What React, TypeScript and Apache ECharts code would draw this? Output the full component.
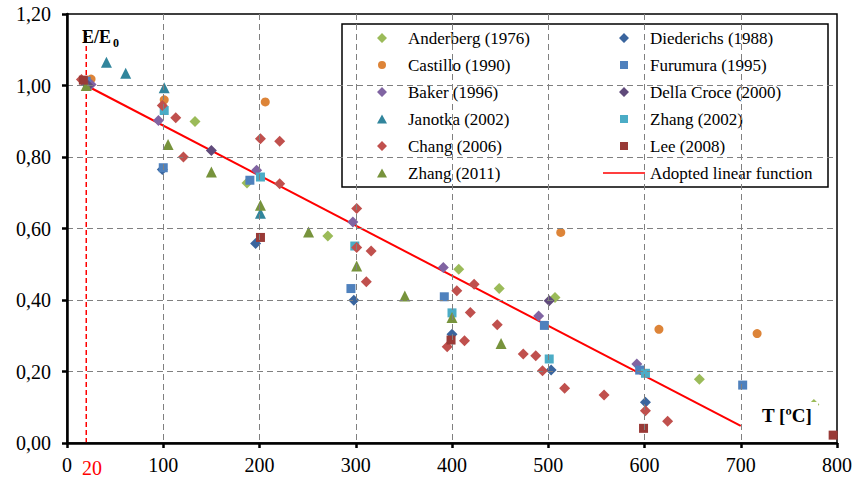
import React, { useEffect, useRef } from "react";
import * as echarts from "echarts";

const FONT = "Liberation Serif, Times New Roman, serif";

// Each point: [T in degC, E/E0]
const anderberg = [[133, 0.899], [187, 0.727], [271, 0.579], [407, 0.486], [449, 0.432], [507, 0.407], [657, 0.178], [776, 0.108]];
const castillo = [[25, 1.018], [101, 0.96], [206, 0.954], [513, 0.589], [615, 0.318], [717, 0.306]];
const baker = [[25, 1.003], [95, 0.902], [197, 0.763], [297, 0.618], [391, 0.491], [490, 0.355], [592, 0.221]];
const janotka = [[41, 1.065], [61, 1.034], [101, 0.994], [201, 0.643]];
const chang = [[15, 1.017], [99, 0.944], [113, 0.91], [121, 0.8], [201, 0.851], [221, 0.844], [221, 0.725], [301, 0.656], [301, 0.547], [316, 0.537], [311, 0.451], [405, 0.426], [423, 0.444], [419, 0.365], [447, 0.331], [395, 0.269], [413, 0.286], [474, 0.249], [487, 0.244], [494, 0.202], [517, 0.153], [558, 0.134], [601, 0.09], [624, 0.061]];
const zhang2011 = [[20, 1.0], [105, 0.835], [150, 0.758], [201, 0.665], [251, 0.59], [301, 0.495], [351, 0.411], [400, 0.351], [451, 0.278]];
const diederichs = [[18, 1.01], [99, 0.765], [196, 0.558], [298, 0.399], [400, 0.304], [503, 0.204], [601, 0.114]];
const furumura = [[20, 1.012], [100, 0.77], [190, 0.735], [295, 0.432], [392, 0.409], [496, 0.329], [595, 0.204], [702, 0.162]];
const dellaCroce = [[22, 1.0], [150, 0.818], [501, 0.398]];
const zhang2002 = [[101, 0.93], [201, 0.744], [299, 0.551], [400, 0.364], [501, 0.235], [601, 0.195]];
const lee = [[17, 1.015], [201, 0.575], [399, 0.288], [599, 0.041], [796, 0.022]];
const adoptedLine = [[20, 1.0], [700, 0.048]];
const referenceT = [[20, 0], [20, 1.148]];

const legendLeft = ["Anderberg (1976)", "Castillo (1990)", "Baker (1996)", "Janotka (2002)", "Chang (2006)", "Zhang (2011)"];
const legendRight = ["Diederichs (1988)", "Furumura (1995)", "Della Croce (2000)", "Zhang (2002)", "Lee (2008)", "Adopted linear function"];

// legend icon shapes drawn inside a 42x10 box (tiny corner anchors keep the box size, so shapes are not stretched)
const ANCHORS = " M0,0 L0.01,0 L0,0.01 Z M42,10 L41.99,10 L42,9.99 Z";
const ICON: Record<string, string> = {
  diamond: "path://M21,0 L26,5 L21,10 L16,5 Z" + ANCHORS,
  circle: "path://M17,5 A4,4 0 1,1 25,5 A4,4 0 1,1 17,5 Z" + ANCHORS,
  rect: "path://M17,1 L25,1 L25,9 L17,9 Z" + ANCHORS,
  triangle: "path://M21,0.5 L26,9.5 L16,9.5 Z" + ANCHORS,
  line: "path://M0,4.2 L42,4.2 L42,5.8 L0,5.8 Z" + ANCHORS,
};
const legendShape: Record<string, string> = {
  "Anderberg (1976)": "diamond",
  "Castillo (1990)": "circle",
  "Baker (1996)": "diamond",
  "Janotka (2002)": "triangle",
  "Chang (2006)": "diamond",
  "Zhang (2011)": "triangle",
  "Diederichs (1988)": "diamond",
  "Furumura (1995)": "rect",
  "Della Croce (2000)": "diamond",
  "Zhang (2002)": "rect",
  "Lee (2008)": "rect",
  "Adopted linear function": "line",
};

const scatter = (name: string, data: number[][], symbol: string, size: number, color: string) => ({
  name,
  type: "scatter",
  data,
  symbol,
  symbolSize: size,
  itemStyle: { color, opacity: 1 },
  z: 3,
});

export default function App() {
  const ref = useRef<HTMLDivElement>(null);
  useEffect(() => {
    if (!ref.current) return;
    const chart = echarts.init(ref.current, null, { renderer: "svg" });
    const legendCommon = {
      orient: "vertical",
      top: 24.5,
      itemWidth: 42,
      itemHeight: 10,
      itemGap: 0,
      padding: 0,
      selectedMode: false,
      formatter: (n: string) => "{t|" + n + "}",
      textStyle: {
        fontSize: 17,
        fontFamily: FONT,
        color: "#000",
        lineHeight: 27,
        rich: { t: { fontSize: 17, fontFamily: FONT, color: "#000", lineHeight: 27 } },
      },
    };
    const toItems = (names: string[]) => names.map((n) => ({ name: n, icon: ICON[legendShape[n]] }));
    chart.setOption({
      animation: false,
      backgroundColor: "#fff",
      textStyle: { fontFamily: FONT },
      grid: { left: 67, right: 20, top: 14, bottom: 44, show: true, borderColor: "#000", borderWidth: 1.5, backgroundColor: "transparent" },
      xAxis: {
        type: "value",
        min: 0,
        max: 800,
        interval: 100,
        z: 5,
        axisLine: { show: true, onZero: false, lineStyle: { color: "#000", width: 2.5 } },
        axisTick: { show: true, length: 5, lineStyle: { color: "#000", width: 2.5 } },
        axisLabel: { fontSize: 20, color: "#000", fontFamily: "serif", margin: 12 },
        splitLine: { show: true, showMinLine: false, showMaxLine: false, lineStyle: { color: "#808080", type: [6, 4], width: 1 } },
      },
      yAxis: {
        type: "value",
        min: 0,
        max: 1.2,
        interval: 0.2,
        z: 5,
        axisLine: { show: true, onZero: false, lineStyle: { color: "#000", width: 2.5 } },
        axisTick: { show: true, length: 5, lineStyle: { color: "#000", width: 2.5 } },
        axisLabel: {
          fontSize: 20,
          color: "#000",
          fontFamily: "Liberation Serif",
          margin: 16,
          formatter: (v: number) => v.toFixed(2).replace(".", ","),
        },
        splitLine: { show: true, showMinLine: false, showMaxLine: false, lineStyle: { color: "#808080", type: [6, 4], width: 1 } },
      },
      legend: [
        { ...legendCommon, left: 361, data: toItems(legendLeft) },
        { ...legendCommon, left: 603, data: toItems(legendRight) },
      ],
      graphic: [
        { type: "rect", shape: { x: 342, y: 24, width: 486, height: 163 }, style: { fill: "#fff", stroke: "#000", lineWidth: 1.5 }, z: 3 },
        { type: "text", x: 82, y: 28, z: 10, style: { text: "E/E", fontSize: 18, fontWeight: "bold", fontFamily: FONT, fill: "#000" } },
        { type: "text", x: 113, y: 37, z: 10, style: { text: "0", fontSize: 12, fontWeight: "bold", fontFamily: FONT, fill: "#000" } },
        { type: "text", x: 92, y: 468, z: 10, style: { text: "20", fontSize: 20, fontFamily: FONT, fill: "#FF0000", align: "center", verticalAlign: "middle" } },
        {
          type: "text", x: 758, y: 402, z: 10,
          style: { text: "T [ºC]", fontSize: 19, fontWeight: "bold", fontFamily: FONT, fill: "#000", backgroundColor: "#fff", padding: [4, 6, 2, 4] },
        },
      ],
      series: [
        {
          name: "T0",
          type: "line",
          data: referenceT,
          symbol: "none",
          lineStyle: { color: "#FF0000", width: 1.5, type: [5, 3] },
          z: 2,
        },
        {
          name: "Adopted linear function",
          type: "line",
          data: adoptedLine,
          symbol: "none",
          showSymbol: false,
          itemStyle: { color: "#FF0000" },
          lineStyle: { color: "#FF0000", width: 2 },
          z: 2,
        },
        scatter("Anderberg (1976)", anderberg, "diamond", 11, "#9BBB59"),
        scatter("Castillo (1990)", castillo, "circle", 9, "#DD8438"),
        scatter("Baker (1996)", baker, "diamond", 11, "#8064A2"),
        scatter("Janotka (2002)", janotka, "triangle", 11, "#31859C"),
        scatter("Diederichs (1988)", diederichs, "diamond", 11, "#3A659E"),
        scatter("Furumura (1995)", furumura, "rect", 9, "#4F81BD"),
        scatter("Della Croce (2000)", dellaCroce, "diamond", 11, "#604A7B"),
        scatter("Zhang (2002)", zhang2002, "rect", 9, "#4BACC6"),
        scatter("Zhang (2011)", zhang2011, "triangle", 11, "#77933C"),
        scatter("Chang (2006)", chang, "diamond", 11, "#C0504D"),
        scatter("Lee (2008)", lee, "rect", 9, "#993A37"),
      ],
    });
    return () => chart.dispose();
  }, []);
  return <div ref={ref} style={{ position: "fixed", left: 0, top: 0, width: 857, height: 487 }} />;
}
